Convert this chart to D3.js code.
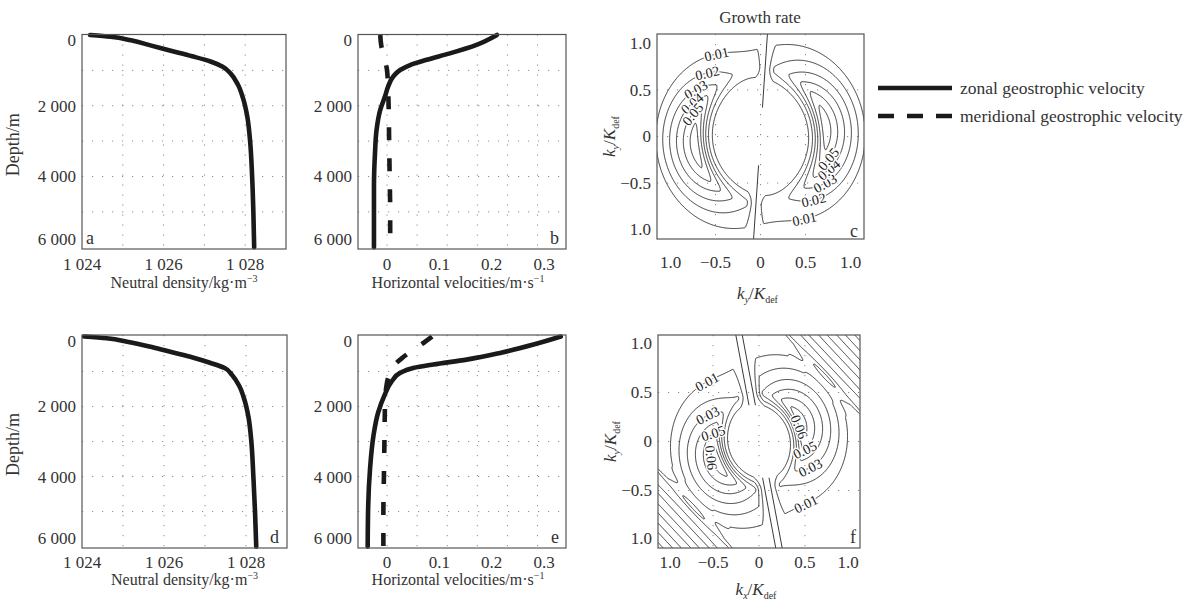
<!DOCTYPE html>
<html>
<head>
<meta charset="utf-8">
<script src="https://cdn.jsdelivr.net/npm/d3@7"></script>
<style>
  body { margin: 0; background: #fff; }
</style>
</head>
<body>
<svg id="fig" width="1190" height="603" font-family="Liberation Serif, Times New Roman, serif"></svg>
<script>
// ---------------- Profile data (depth in m) ----------------
const depthA   = [0, 50, 150, 300, 450, 600, 750, 900, 1100, 1400, 1800, 2300, 3000, 4000, 5000, 6000];
const densityA = [1024.2, 1024.7, 1025.2, 1025.7, 1026.2, 1026.7, 1027.15, 1027.45, 1027.65, 1027.82, 1027.95, 1028.05, 1028.12, 1028.17, 1028.2, 1028.22];
const depthD   = [0, 50, 150, 300, 450, 600, 750, 900, 1100, 1400, 1800, 2300, 3000, 4000, 5000, 6000];
const densityD = [1024.05, 1024.6, 1025.1, 1025.7, 1026.2, 1026.7, 1027.12, 1027.48, 1027.66, 1027.83, 1027.96, 1028.06, 1028.13, 1028.18, 1028.22, 1028.25];

const zonalDepthB = [0, 280, 520, 700, 850, 990, 1180, 1460, 1740, 2120, 2680, 3330, 4300, 6000];
const zonalB      = [0.21, 0.171, 0.12, 0.076, 0.044, 0.025, 0.0115, 0.002, -0.004, -0.013, -0.02, -0.023, -0.025, -0.025];
const meridDepthB = [0, 300, 700, 1000, 1500, 2000, 3000, 4000, 5000, 6000];
const meridB      = [-0.013, -0.011, -0.004, 0.0, 0.002, 0.003, 0.004, 0.005, 0.006, 0.006];

const zonalDepthE = [0, 230, 470, 660, 800, 900, 1040, 1280, 1650, 2170, 2840, 3780, 4830, 6000];
const zonalE      = [0.332, 0.28, 0.216, 0.152, 0.0885, 0.05, 0.025, 0.009, -0.004, -0.017, -0.026, -0.0325, -0.036, -0.037];
const meridDepthE = [0, 200, 400, 600, 800, 1100, 1500, 2000, 3000, 4000, 5000, 6000];
const meridE      = [0.086, 0.068, 0.048, 0.03, 0.015, 0.004, -0.002, -0.004, -0.005, -0.006, -0.007, -0.007];

// ---------------- Axis ticks ----------------
const depthTicks    = [0, 2000, 4000, 6000];
const depthLabels   = ["0", "2 000", "4 000", "6 000"];
const depthGrid     = [1000, 2000, 3000, 4000, 5000];
const densityTicks  = [1024, 1026, 1028];
const densityLabels = ["1 024", "1 026", "1 028"];
const densityGrid   = [1025, 1026, 1027, 1028];
const velTicks      = [0, 0.1, 0.2, 0.3];
const velLabels     = ["0", "0.1", "0.2", "0.3"];
const velGrid       = [0, 0.0575, 0.115, 0.1725, 0.23, 0.2875];
const kTicks        = [-1, -0.5, 0, 0.5, 1];
const kLabels       = ["1.0", "\u22120.5", "0", "0.5", "1.0"];
const kGrid         = [-0.5, 0, 0.5];

// ---------------- Growth-rate fields (kx, ky in units of K_def) ----------------
const contourLevels = [0.01, 0.02, 0.03, 0.04, 0.05, 0.06];
// crescent lobes: centre angle (deg), peak rate, peak radius, inner width, outer span, angular width (deg)
const lobesC = [
  [188, 0.066, 0.74, 0.15, 0.5, 62],
  [8,   0.066, 0.74, 0.15, 0.5, 62]
];
const lobesF = [
  [205, 0.066, 0.5, 0.12, 0.56, 66],
  [25,  0.066, 0.5, 0.12, 0.56, 66]
];
// short-wave bands: direction (deg), rate, start, ramp length, wavelength, half width
const bandsF = [
  [45,  0.019, 0.84, 0.2, 0.14, 1.25],
  [225, 0.019, 0.84, 0.2, 0.14, 1.25]
];
// neutral strip: tilt dkx/dky, half width, ramp width, |ky| where it meets the central gap
const stripC = [0.07, 0.0, 0.1, 0.31];
const stripF = [-0.2, 0.035, 0.1, 0.37];
// inline contour labels: level, approximate kx, ky
const labelsC = [
  [0.01, -0.5, 0.92], [0.02, -0.6, 0.72], [0.03, -0.74, 0.54], [0.04, -0.78, 0.38], [0.05, -0.76, 0.24],
  [0.01, 0.5, -0.92], [0.02, 0.6, -0.72], [0.03, 0.74, -0.54], [0.04, 0.78, -0.38], [0.05, 0.76, -0.24]
];
const labelsF = [
  [0.01, -0.64, 0.73], [0.03, -0.66, 0.45], [0.05, -0.6, 0.2], [0.06, -0.5, -0.16],
  [0.01, 0.55, -0.72], [0.03, 0.66, -0.45], [0.05, 0.6, -0.2], [0.06, 0.46, 0.16]
];

// ---------------- Drawing ----------------
const svg = d3.select("#fig");
const INK = "#1a1a1a";
const FRAME = "#555";
const TICKFONT = 17;
const TITLEFONT = 16;

const sq = t => t * t;
function crescent(kx, ky, p) {
  const [thDeg, amp, r0, wIn, span, sigDeg] = p;
  const r = Math.hypot(kx, ky);
  let dth = Math.atan2(ky, kx) - thDeg * Math.PI / 180;
  dth = Math.atan2(Math.sin(dth), Math.cos(dth));
  const radial = r < r0 ? Math.exp(-sq((r - r0) / wIn)) : Math.max(0, 1 - (r - r0) / span);
  const ang = Math.exp(-sq(dth / (sigDeg * Math.PI / 180)));
  return amp * radial * ang;
}
function band(kx, ky, p) {
  const [dirDeg, amp, u0, ramp, lam, hw] = p;
  const a = dirDeg * Math.PI / 180;
  const u = kx * Math.cos(a) + ky * Math.sin(a);
  const v = -kx * Math.sin(a) + ky * Math.cos(a);
  if (u < u0) return 0;
  const env = Math.min(1, (u - u0) / ramp) * Math.max(0, 1 - sq(v / hw));
  return amp * env * sq(Math.cos(Math.PI * (u - u0) / lam));
}
function stripFactor(kx, ky, s) {
  const [tilt, hw, ramp] = s;
  const d = Math.abs(kx - tilt * ky) - hw;
  return Math.max(0, Math.min(1, d / ramp));
}

function frame(g, fr) {
  g.append("rect").attr("x", fr.x0).attr("y", fr.y0)
    .attr("width", fr.x1 - fr.x0).attr("height", fr.y1 - fr.y0)
    .attr("fill", "none").attr("stroke", FRAME).attr("stroke-width", 1.2);
}
function grid(g, x, y, fr, xs, ys) {
  const gg = g.append("g").attr("stroke", "#8a8a8a").attr("stroke-width", 1)
    .attr("stroke-dasharray", "1.2,8.8");
  xs.forEach(v => gg.append("line").attr("x1", x(v)).attr("x2", x(v))
    .attr("y1", fr.y0).attr("y2", fr.y1));
  ys.forEach(v => gg.append("line").attr("y1", y(v)).attr("y2", y(v))
    .attr("x1", fr.x0).attr("x2", fr.x1));
}
function xTickLabels(g, x, fr, vals, labs, yPos, inset) {
  vals.forEach((v, i) => {
    let px = x(v);
    if (inset) px = Math.min(Math.max(px, fr.x0 + inset), fr.x1 - inset);
    g.append("text").attr("x", px).attr("y", yPos).attr("text-anchor", "middle")
      .attr("font-size", TICKFONT).attr("fill", "#333").text(labs[i]);
  });
}
function yTickLabels(g, y, fr, vals, labs, xPos) {
  vals.forEach((v, i) => {
    const py = Math.min(Math.max(y(v), fr.y0 + 6), fr.y1 - 10);
    g.append("text").attr("x", xPos).attr("y", py).attr("dy", "0.35em").attr("text-anchor", "end")
      .attr("font-size", TICKFONT).attr("fill", "#333").text(labs[i]);
  });
}
function panelLetter(g, txt, xPos, yPos, anchor) {
  g.append("text").attr("x", xPos).attr("y", yPos).attr("text-anchor", anchor)
    .attr("font-size", 18).attr("fill", "#333").text(txt);
}
function unitTitle(g, cx, cy, main, sup) {
  const t = g.append("text").attr("x", cx).attr("y", cy).attr("text-anchor", "middle")
    .attr("font-size", TITLEFONT).attr("fill", "#333");
  t.append("tspan").text(main);
  t.append("tspan").attr("dy", -6).attr("font-size", 10).text(sup);
}
function kTitle(g, cx, cy, sub, rotate) {
  const t = g.append("text").attr("text-anchor", "middle").attr("font-size", TITLEFONT + 1).attr("fill", "#333")
    .attr("transform", `translate(${cx},${cy})` + (rotate ? " rotate(-90)" : ""));
  t.append("tspan").attr("font-style", "italic").text("k");
  t.append("tspan").attr("font-size", 10).attr("dy", 4).attr("font-style", "italic").text(sub);
  t.append("tspan").attr("dy", -4).text("/");
  t.append("tspan").attr("font-style", "italic").text("K");
  t.append("tspan").attr("font-size", 10).attr("dy", 4).text("def");
}
function depthTitle(g, cx, cy) {
  g.append("text").attr("transform", `translate(${cx},${cy}) rotate(-90)`)
    .attr("text-anchor", "middle").attr("font-size", 18).attr("fill", "#333").text("Depth/m");
}

// profile line helper
function profile(g, x, y, vals, depths, dashed) {
  const data = vals.map((v, i) => [v, depths[i]]);
  const line = d3.line().x(d => x(d[0])).y(d => y(d[1])).curve(d3.curveMonotoneY);
  g.append("path").attr("d", line(data)).attr("fill", "none")
    .attr("stroke", INK).attr("stroke-width", 4.6)
    .attr("stroke-linecap", dashed ? "butt" : "round")
    .attr("stroke-linejoin", "round")
    .attr("stroke-dasharray", dashed ? "13,18" : null);
}

// ------ density panels (a, d) ------
function densityPanel(fr, dens, depths, letter, letterPos) {
  const g = svg.append("g");
  const x = d3.scaleLinear().domain([1024, 1029]).range([fr.x0, fr.x1]);
  const y = d3.scaleLinear().domain([0, fr.depthMax]).range([fr.yz, fr.y1]);
  grid(g, x, y, fr, densityGrid, depthGrid);
  profile(g, x, y, dens, depths, false);
  frame(g, fr);
  xTickLabels(g, x, fr, densityTicks, densityLabels, fr.y1 + fr.tickGap, 0);
  yTickLabels(g, y, fr, depthTicks, depthLabels, fr.x0 - 6);
  depthTitle(g, 19, (fr.y0 + fr.y1) / 2 + 3);
  unitTitle(g, (fr.x0 + fr.x1) / 2, fr.y1 + fr.titleGap, "Neutral density/kg\u00b7m", "\u22123");
  panelLetter(g, letter, letterPos[0], letterPos[1], letterPos[2]);
}
// ------ velocity panels (b, e) ------
function velocityPanel(fr, zv, zd, mv, md, letter, letterPos) {
  const g = svg.append("g");
  const x = d3.scaleLinear().domain([-0.0555, 0.342]).range([fr.x0, fr.x1]);
  const y = d3.scaleLinear().domain([0, fr.depthMax]).range([fr.yz, fr.y1]);
  grid(g, x, y, fr, velGrid, depthGrid);
  profile(g, x, y, mv, md, true);
  profile(g, x, y, zv, zd, false);
  frame(g, fr);
  xTickLabels(g, x, fr, velTicks, velLabels, fr.y1 + fr.tickGap, 0);
  yTickLabels(g, y, fr, depthTicks, depthLabels, fr.x0 - 6);
  unitTitle(g, (fr.x0 + fr.x1) / 2 - 4, fr.y1 + fr.titleGap, "Horizontal velocities/m\u00b7s", "\u22121");
  panelLetter(g, letter, letterPos[0], letterPos[1], letterPos[2]);
}

// ------ growth-rate panels (c, f) ------
function growthPanel(fr, xDom, yDom, lobes, bands, strip, labels, letter, letterPos, sub, clipId) {
  const g = svg.append("g");
  const x = d3.scaleLinear().domain(xDom).range([fr.x0, fr.x1]);
  const y = d3.scaleLinear().domain(yDom).range([fr.y1, fr.y0]);

  // sample the field on a grid a little larger than the visible box
  const pad = 0.12, n = 300;
  const gx0 = xDom[0] - pad, gx1 = xDom[1] + pad, gy0 = yDom[0] - pad, gy1 = yDom[1] + pad;
  const dx = (gx1 - gx0) / (n - 1), dy = (gy1 - gy0) / (n - 1);
  const values = new Float64Array(n * n);
  for (let j = 0; j < n; j++) {
    const ky = gy1 - j * dy;
    for (let i = 0; i < n; i++) {
      const kx = gx0 + i * dx;
      let v = 0;
      lobes.forEach(p => { v += crescent(kx, ky, p); });
      v *= stripFactor(kx, ky, strip);
      bands.forEach(p => { v += band(kx, ky, p); });
      values[j * n + i] = v;
    }
  }
  const contours = d3.contours().size([n, n]).thresholds(contourLevels)(values);
  const toK = pt => [gx0 + (pt[0] - 0.5) * dx, gy1 - (pt[1] - 0.5) * dy];

  svg.append("clipPath").attr("id", clipId).append("rect")
    .attr("x", fr.x0).attr("y", fr.y0).attr("width", fr.x1 - fr.x0).attr("height", fr.y1 - fr.y0);

  grid(g, x, y, fr, kGrid, kGrid);
  const cg = g.append("g").attr("clip-path", `url(#${clipId})`);
  const line = d3.line().x(d => x(d[0])).y(d => y(d[1]));
  const ringsByLevel = new Map();
  contours.forEach(c => {
    const rings = [];
    c.coordinates.forEach(poly => poly.forEach(ring => {
      const kr = ring.map(toK);
      rings.push(kr);
      cg.append("path").attr("d", line(kr) + "Z").attr("fill", "none")
        .attr("stroke", "#222").attr("stroke-width", 0.9);
    }));
    ringsByLevel.set(c.value, rings);
  });

  // edges of the neutral strip, above and below the central gap
  const [tilt, hw, , gap] = strip;
  const offsets = hw > 0 ? [-hw, hw] : [0];
  [[yDom[1] + pad, gap], [-gap, yDom[0] - pad]].forEach(([ya, yb]) => {
    offsets.forEach(o => {
      cg.append("path").attr("d", line([[tilt * ya + o, ya], [tilt * yb + o, yb]]))
        .attr("fill", "none").attr("stroke", "#222").attr("stroke-width", 0.9);
    });
  });

  // inline labels along contours
  labels.forEach(([lev, kx, ky]) => {
    const rings = ringsByLevel.get(lev) || [];
    let best = null, bd = Infinity;
    rings.forEach(r => r.forEach((p, idx) => {
      const d = sq(x(p[0]) - x(kx)) + sq(y(p[1]) - y(ky));
      if (d < bd) { bd = d; best = { r, idx }; }
    }));
    if (!best) return;
    const r = best.r, m = r.length;
    const p = r[best.idx], a = r[(best.idx - 3 + m) % m], b = r[(best.idx + 3) % m];
    let ang = Math.atan2(y(b[1]) - y(a[1]), x(b[0]) - x(a[0])) * 180 / Math.PI;
    if (ang > 90) ang -= 180;
    if (ang < -90) ang += 180;
    cg.append("text").attr("transform", `translate(${x(p[0])},${y(p[1])}) rotate(${ang})`)
      .attr("text-anchor", "middle").attr("dy", "0.35em").attr("font-size", 14)
      .attr("fill", "#222").attr("stroke", "#fff").attr("stroke-width", 3)
      .attr("paint-order", "stroke").text(d3.format(".2f")(lev));
  });

  frame(g, fr);
  xTickLabels(g, x, fr, kTicks, kLabels, fr.y1 + fr.tickGap, 12);
  yTickLabels(g, y, fr, kTicks, kLabels, fr.x0 - 6);
  kTitle(g, (fr.x0 + fr.x1) / 2 - 3, fr.y1 + fr.titleGap, sub, false);
  kTitle(g, fr.x0 - 42, (fr.y0 + fr.y1) / 2, "y", true);
  panelLetter(g, letter, letterPos[0], letterPos[1], letterPos[2]);
  return g;
}

// panel boxes
const frA = { x0: 82,  x1: 286, y0: 34.5, y1: 249, yz: 35,    depthMax: 6050, tickGap: 21, titleGap: 39 };
const frB = { x0: 358, x1: 566, y0: 34.5, y1: 249, yz: 35,    depthMax: 6050, tickGap: 21, titleGap: 39 };
const frC = { x0: 657, x1: 864, y0: 34,   y1: 239, tickGap: 29, titleGap: 60 };
const frD = { x0: 82,  x1: 287, y0: 335,  y1: 548, yz: 336.5, depthMax: 6040, tickGap: 20, titleGap: 37 };
const frE = { x0: 358, x1: 566, y0: 335,  y1: 548, yz: 336.5, depthMax: 6040, tickGap: 20, titleGap: 37 };
const frF = { x0: 658, x1: 860, y0: 335,  y1: 548, tickGap: 20, titleGap: 47 };

densityPanel(frA, densityA, depthA, "a", [86, 244, "start"]);
densityPanel(frD, densityD, depthD, "d", [279, 543, "end"]);
velocityPanel(frB, zonalB, zonalDepthB, meridB, meridDepthB, "b", [559, 244, "end"]);
velocityPanel(frE, zonalE, zonalDepthE, meridE, meridDepthE, "e", [559, 543, "end"]);
growthPanel(frC, [-1.15, 1.15], [-1.1, 1.1], lobesC, [], stripC, labelsC, "c", [858, 237, "end"], "y", "clipC");
growthPanel(frF, [-1.1, 1.1], [-1.087, 1.087], lobesF, bandsF, stripF, labelsF, "f", [856, 543, "end"], "x", "clipF");

// title over panel c
svg.append("text").attr("x", 760).attr("y", 23).attr("text-anchor", "middle")
  .attr("font-size", TICKFONT).attr("fill", "#333").text("Growth rate");

// legend
const legend = svg.append("g");
const legendItems = [
  { label: "zonal geostrophic velocity", dashed: false },
  { label: "meridional geostrophic velocity", dashed: true }
];
legendItems.forEach((it, i) => {
  const ly = 88 + i * 28;
  legend.append("line").attr("x1", 878).attr("x2", 952).attr("y1", ly).attr("y2", ly)
    .attr("stroke", INK).attr("stroke-width", 4.6)
    .attr("stroke-dasharray", it.dashed ? "16,13" : null);
  legend.append("text").attr("x", 960).attr("y", ly).attr("dy", "0.32em")
    .attr("font-size", 17.5).attr("fill", "#333").text(it.label);
});
</script>
</body>
</html>
